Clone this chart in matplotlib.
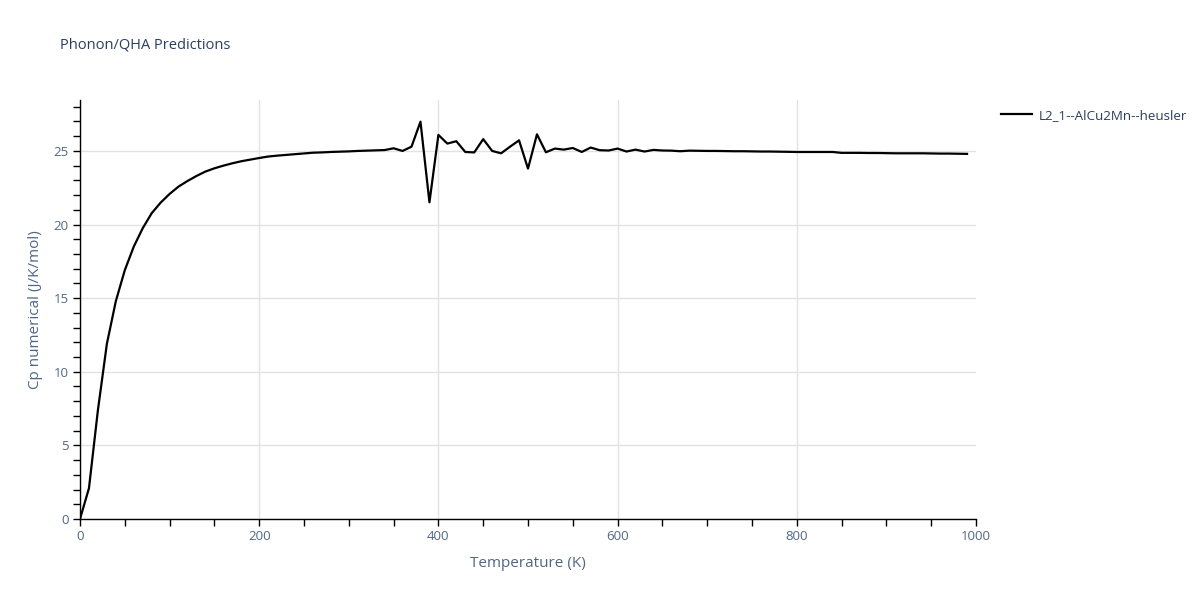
# Phonon/QHA heat capacity prediction for L2_1 AlCu2Mn heusler

import matplotlib
matplotlib.use("Agg")
import matplotlib.pyplot as plt
from matplotlib.ticker import MultipleLocator
import numpy as np

plt.rcParams['font.family'] = ['Open Sans', 'DejaVu Sans']

label = "L2_1--AlCu2Mn--heusler"

temperature = np.arange(0, 1000, 10)
cp = [
    0.0, 2.09, 7.4, 11.9, 14.8, 16.9, 18.5, 19.75, 20.77, 21.49,
    22.08, 22.58, 22.96, 23.3, 23.6, 23.82, 24.0, 24.16, 24.3, 24.41,
    24.52, 24.62, 24.68, 24.73, 24.78, 24.83, 24.88, 24.9, 24.93, 24.95,
    24.97, 25.0, 25.02, 25.04, 25.06, 25.18, 25.0, 25.29, 26.99, 21.51,
    26.09, 25.5, 25.66, 24.93, 24.9, 25.8, 25.0, 24.84, 25.29, 25.72,
    23.8, 26.13, 24.91, 25.16, 25.09, 25.2, 24.93, 25.23, 25.05, 25.03,
    25.16, 24.96, 25.09, 24.96, 25.07, 25.03, 25.02, 24.98, 25.02, 25.01,
    25.0, 25.0, 24.99, 24.98, 24.98, 24.97, 24.96, 24.96, 24.95, 24.94,
    24.93, 24.93, 24.93, 24.93, 24.93, 24.87, 24.87, 24.87, 24.86, 24.86,
    24.85, 24.84, 24.84, 24.84, 24.84, 24.83, 24.82, 24.82, 24.81, 24.8,
]

text_col = '#2a3f5f'
tick_col = '#506784'

fig = plt.figure(figsize=(12, 6), dpi=100)
ax = fig.add_axes([80 / 1200, 81 / 600, 896 / 1200, 419 / 600])

ax.plot(temperature, cp, color='black', lw=1.6, label=label)

ax.set_xlim(0, 1000)
ax.set_ylim(0, 28.46)
ax.xaxis.set_major_locator(MultipleLocator(200))
ax.xaxis.set_minor_locator(MultipleLocator(50))
ax.yaxis.set_major_locator(MultipleLocator(5))
ax.yaxis.set_minor_locator(MultipleLocator(1))
ax.grid(True, which='major', color='#e2e2e2', lw=1)
ax.set_axisbelow(True)

for side in ['top', 'right']:
    ax.spines[side].set_visible(False)
for side in ['left', 'bottom']:
    ax.spines[side].set_color('black')
    ax.spines[side].set_linewidth(1)

ax.tick_params(which='both', direction='out', length=5, width=1,
               color='black', labelsize=9.5, labelcolor=tick_col, pad=3)

ax.set_xlabel("Temperature (K)", fontsize=11, color=tick_col, labelpad=9)
ax.set_ylabel("Cp numerical (J/K/mol)", fontsize=11, color=tick_col, labelpad=8)

fig.text(60 / 1200, 1 - 45 / 600, "Phonon/QHA Predictions", fontsize=10.5,
         color=text_col, va='center', ha='left')

ax.legend(loc='upper left', bbox_to_anchor=(989 / 1200, 1 - 97 / 600),
          bbox_transform=fig.transFigure, frameon=False, fontsize=9.6,
          handlelength=2.3, handletextpad=0.5, labelcolor=text_col)

# no grid line at the right end of the x axis
fig.canvas.draw()
for tick in ax.xaxis.get_major_ticks():
    if abs(tick.get_loc() - 1000) < 1e-6:
        tick.gridline.set_visible(False)

plt.savefig("out.png", dpi=100)
plt.close()
